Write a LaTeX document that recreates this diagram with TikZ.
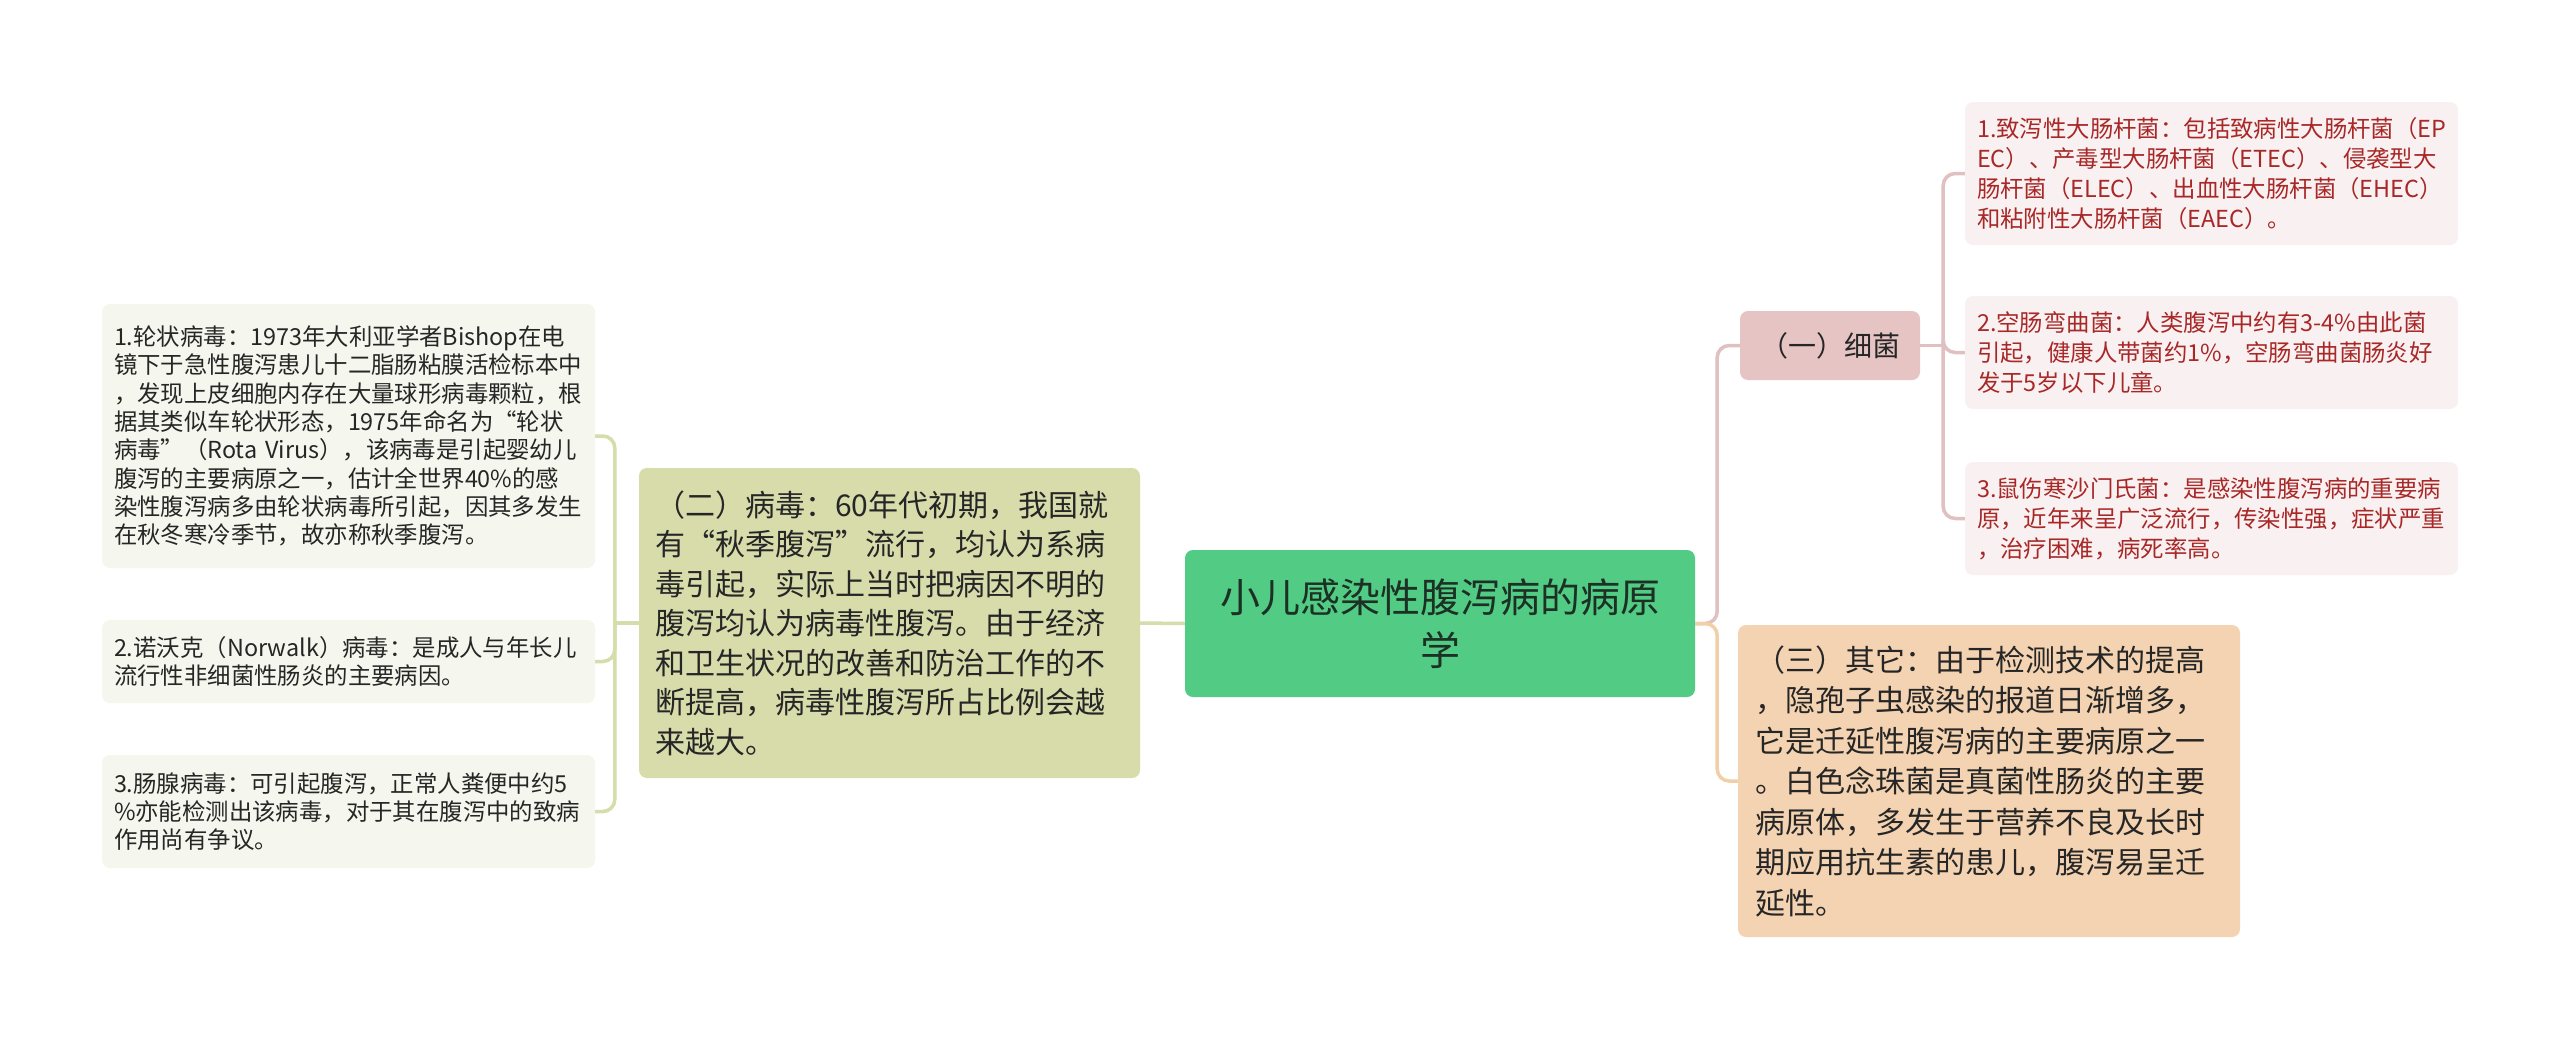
\documentclass[tikz,border=0pt]{standalone}
\usepackage{fontspec}
\setmainfont{Noto Sans CJK SC}
\usepackage{tikz}

\definecolor{rootfill}{RGB}{82,204,132}
\definecolor{roottext}{RGB}{28,48,36}
\definecolor{virusfill}{RGB}{216,220,171}
\definecolor{virusleaf}{RGB}{245,246,237}
\definecolor{virusline}{RGB}{214,221,170}
\definecolor{bactfill}{RGB}{230,196,196}
\definecolor{bactleaf}{RGB}{249,241,241}
\definecolor{bactline}{RGB}{224,192,192}
\definecolor{bacttext}{RGB}{168,40,40}
\definecolor{otherfill}{RGB}{243,211,177}
\definecolor{otherline}{RGB}{241,208,168}
\definecolor{bodytext}{RGB}{38,38,38}

\tikzset{
  box/.style={rounded corners=8pt, inner ysep=0pt, align=left, text=bodytext},
  rootbox/.style={box, fill=rootfill, text=roottext, align=center, text width=480pt,
    minimum width=510pt, minimum height=147pt, font=\fontsize{40}{53}\selectfont},
  virusbox/.style={box, fill=virusfill, inner xsep=16pt, text width=469pt,
    font=\fontsize{30}{39.5}\selectfont},
  virusleafbox/.style={box, fill=virusleaf, inner xsep=12pt, text width=469pt,
    font=\fontsize{23.4}{28.3}\selectfont},
  bactbox/.style={box, fill=bactfill, align=center, minimum width=180pt,
    minimum height=69pt, font=\fontsize{28}{34}\selectfont},
  bactleafbox/.style={box, fill=bactleaf, text=bacttext, inner xsep=12pt, text width=469pt,
    font=\fontsize{23.4}{30}\selectfont},
  otherbox/.style={box, fill=otherfill, inner xsep=17pt, text width=468pt,
    font=\fontsize{30}{40.5}\selectfont},
  link/.style={line width=3.5pt, rounded corners=12pt}
}

\begin{document}
\begin{tikzpicture}[x=1pt,y=-1pt]
  \path[use as bounding box, fill=white] (0,0) rectangle (2560,1039);

  % centre
  \node[rootbox] (root) at (1440,623.5) {小儿感染性腹泻病的病原\\学};

  % left: viruses
  \node[virusbox, minimum height=310pt] (virus) at (889.5,623) {（二）病毒：60年代初期，我国就\\
有“秋季腹泻”流行，均认为系病\\
毒引起，实际上当时把病因不明的\\
腹泻均认为病毒性腹泻。由于经济\\
和卫生状况的改善和防治工作的不\\
断提高，病毒性腹泻所占比例会越\\
来越大。};

  \node[virusleafbox, minimum height=264pt] (rota) at (348.5,436) {1.轮状病毒：1973年大利亚学者Bishop在电\\
镜下于急性腹泻患儿十二脂肠粘膜活检标本中\\
，发现上皮细胞内存在大量球形病毒颗粒，根\\
据其类似车轮状形态，1975年命名为“轮状\\
病毒”（Rota Virus），该病毒是引起婴幼儿\\
腹泻的主要病原之一，估计全世界40\%的感\\
染性腹泻病多由轮状病毒所引起，因其多发生\\
在秋冬寒冷季节，故亦称秋季腹泻。};
  \node[virusleafbox, minimum height=83pt] (norwalk) at (348.5,661.5) {2.诺沃克（Norwalk）病毒：是成人与年长儿\\
流行性非细菌性肠炎的主要病因。};
  \node[virusleafbox, minimum height=113pt] (adeno) at (348.5,811.5) {3.肠腺病毒：可引起腹泻，正常人粪便中约5\\
\%亦能检测出该病毒，对于其在腹泻中的致病\\
作用尚有争议。};

  % right: bacteria and others
  \node[bactbox] (bact) at (1830,345.5) {（一）细菌};

  \node[bactleafbox, minimum height=143pt] (ecoli) at (2211.5,173.5) {1.致泻性大肠杆菌：包括致病性大肠杆菌（EP\\
EC）、产毒型大肠杆菌（ETEC）、侵袭型大\\
肠杆菌（ELEC）、出血性大肠杆菌（EHEC）\\
和粘附性大肠杆菌（EAEC）。};
  \node[bactleafbox, minimum height=113pt] (campy) at (2211.5,352.5) {2.空肠弯曲菌：人类腹泻中约有3-4\%由此菌\\
引起，健康人带菌约1\%，空肠弯曲菌肠炎好\\
发于5岁以下儿童。};
  \node[bactleafbox, minimum height=113pt] (salmo) at (2211.5,518.5) {3.鼠伤寒沙门氏菌：是感染性腹泻病的重要病\\
原，近年来呈广泛流行，传染性强，症状严重\\
，治疗困难，病死率高。};

  \node[otherbox, minimum height=312pt] (other) at (1989,781) {（三）其它：由于检测技术的提高\\
，隐孢子虫感染的报道日渐增多，\\
它是迁延性腹泻病的主要病原之一\\
。白色念珠菌是真菌性肠炎的主要\\
病原体，多发生于营养不良及长时\\
期应用抗生素的患儿，腹泻易呈迁\\
延性。};

  % connectors
  \coordinate (vjoin) at ([xshift=-24pt]virus.west);
  \coordinate (rjoin) at ([xshift=22pt]root.east);
  \coordinate (bjoin) at ([xshift=23pt]bact.east);

  \draw[link, virusline] (root.west) -- (virus.east);
  \draw[link, virusline] (virus.west) -- (vjoin);
  \foreach \leaf in {rota,norwalk,adeno}
    \draw[link, virusline] (vjoin) |- (\leaf.east);

  \draw[link, bactline] (root.east) -- (rjoin) |- (bact.west);
  \draw[link, otherline] (root.east) -- (rjoin) |- (other.west);

  \draw[link, bactline] (bact.east) -- (bjoin);
  \foreach \leaf in {ecoli,campy,salmo}
    \draw[link, bactline] (bjoin) |- (\leaf.west);
\end{tikzpicture}
\end{document}
